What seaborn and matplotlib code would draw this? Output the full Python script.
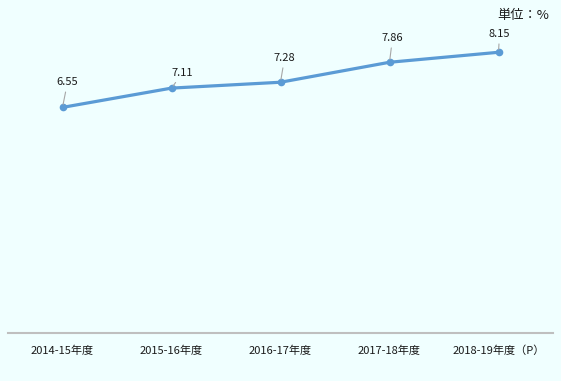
import matplotlib
matplotlib.use("Agg")
import matplotlib.pyplot as plt
import seaborn as sns
import pandas as pd

categories = ["2014-15年度", "2015-16年度", "2016-17年度", "2017-18年度", "2018-19年度（P）"]
values = [6.55, 7.11, 7.28, 7.86, 8.15]
label_offsets = [(5, 25), (11, 15), (4, 24), (3, 24), (1, 18)]
unit_label = "単位：%"

sns.set_theme(style="white")
plt.rcParams['font.family'] = ['Noto Sans CJK JP', 'DejaVu Sans']

bg = "#F0FFFF"
fig = plt.figure(figsize=(5.61, 3.81), dpi=100, facecolor=bg)
ax = fig.add_axes([8/561, 48/381, 545/561, 310/381])
ax.set_facecolor(bg)

df = pd.DataFrame({"cat": categories, "val": values})
df["x"] = range(len(df))
sns.lineplot(data=df, x="x", y="val", ax=ax, color="#5B9BD5", linewidth=2.3,
             marker="o", markersize=5.5, markeredgewidth=0, legend=False)

ax.set_xlim(-0.5, len(categories) - 0.5)
ax.set_ylim(0, 9)
ax.set_xticks(range(len(categories)))
ax.set_xticklabels(categories, fontsize=8, color="#1a1a1a")
ax.tick_params(axis="x", length=0, pad=9)
ax.set_yticks([])
ax.set_xlabel("")
ax.set_ylabel("")
for s in ["top", "left", "right"]:
    ax.spines[s].set_visible(False)
ax.spines["bottom"].set_color("#BFBFBF")
ax.spines["bottom"].set_linewidth(1.5)

for i, (v, off) in enumerate(zip(values, label_offsets)):
    ax.annotate(f"{v:.2f}", xy=(i, v), xytext=off, textcoords="offset pixels",
                ha="center", va="center", fontsize=8, color="#1a1a1a",
                arrowprops=dict(arrowstyle="-", color="#A6A6A6", lw=0.8,
                                shrinkA=1, shrinkB=2))

fig.text(549/561, 1 - 16/381, unit_label, ha="right", va="center",
         fontsize=9.5, color="#1a1a1a")

fig.savefig("out.png", dpi=100, facecolor=bg)
